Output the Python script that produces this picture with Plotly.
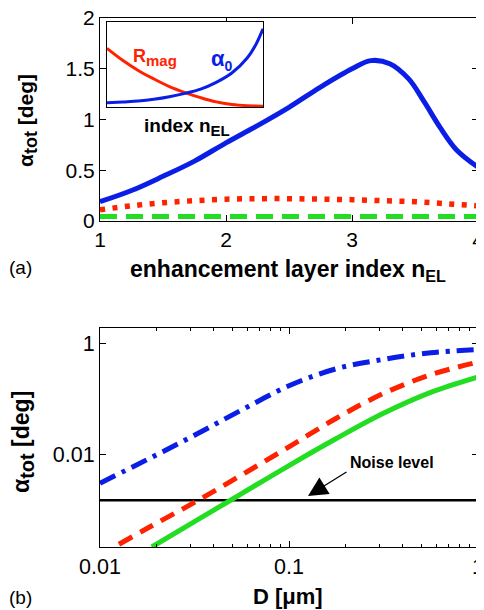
import plotly.graph_objects as go

# ---- panel (a) data ----
n_el_blue = [1.0, 1.25, 1.5, 1.75, 2.0, 2.25, 2.5, 2.75, 3.0, 3.15, 3.3, 3.45, 3.57, 3.7, 3.83, 4.0]
alpha_blue = [0.19, 0.30, 0.44, 0.59, 0.77, 0.94, 1.12, 1.32, 1.50, 1.58, 1.55, 1.40, 1.18, 0.92, 0.70, 0.53]
n_el = [1.0, 1.25, 1.5, 1.75, 2.0, 2.25, 2.5, 2.75, 3.0, 3.25, 3.5, 3.75, 4.0]
alpha_red = [0.11, 0.15, 0.18, 0.20, 0.215, 0.22, 0.22, 0.215, 0.21, 0.20, 0.19, 0.17, 0.15]
alpha_green = [0.045, 0.045, 0.045, 0.045, 0.046, 0.046, 0.046, 0.046, 0.046, 0.045, 0.045, 0.045, 0.045]

# inset (normalised)
inset_x = [0.0, 0.1, 0.2, 0.3, 0.4, 0.5, 0.6, 0.7, 0.8, 0.9, 0.95, 1.0]
inset_rmag = [0.69, 0.55, 0.43, 0.33, 0.24, 0.17, 0.11, 0.06, 0.03, 0.015, 0.012, 0.01]
inset_alpha0 = [0.05, 0.06, 0.07, 0.09, 0.12, 0.16, 0.21, 0.29, 0.40, 0.58, 0.72, 0.92]

# ---- panel (b) data ----
D_blue = [0.01, 0.0178, 0.0316, 0.0562, 0.1, 0.178, 0.316, 0.562, 1.0]
a_blue = [0.00295, 0.00794, 0.0219, 0.0631, 0.174, 0.355, 0.525, 0.692, 0.794]
D_red = [0.0126, 0.0178, 0.0316, 0.0562, 0.1, 0.178, 0.316, 0.562, 1.0]
a_red = [0.000229, 0.000447, 0.00132, 0.00417, 0.0135, 0.0447, 0.126, 0.275, 0.468]
D_green = [0.0188, 0.0316, 0.0562, 0.1, 0.178, 0.316, 0.562, 1.0]
a_green = [0.000204, 0.000589, 0.00191, 0.00617, 0.0191, 0.055, 0.132, 0.251]
noise_D = [0.01, 1.0]
noise_level = [0.00144, 0.00144]

# page body has an 8px margin: figure occupies window pixels 8..484 x 8..610
OFF = 8
W, H = 484 - OFF, 610 - OFF
def px(x): return (x - OFF) / W
def py(y): return 1 - (y - OFF) / H

BLUE, RED, GREEN = "#0a1ee6", "#ff2200", "#22dd22"
FONT = "Liberation Sans, Arial"

fig = go.Figure()
# panel a
fig.add_trace(go.Scatter(x=n_el, y=alpha_green, mode="lines", line=dict(color=GREEN, width=5, dash="17px,9px"), xaxis="x", yaxis="y", showlegend=False))
fig.add_trace(go.Scatter(x=n_el, y=alpha_red, mode="lines", line=dict(color=RED, width=5.5, dash="5px,7.5px", shape="spline"), xaxis="x", yaxis="y", showlegend=False))
fig.add_trace(go.Scatter(x=n_el_blue, y=alpha_blue, mode="lines", line=dict(color=BLUE, width=5, shape="spline"), xaxis="x", yaxis="y", showlegend=False))
# inset
fig.add_trace(go.Scatter(x=inset_x, y=inset_rmag, mode="lines", line=dict(color=RED, width=3, shape="spline"), xaxis="x3", yaxis="y3", showlegend=False))
fig.add_trace(go.Scatter(x=inset_x, y=inset_alpha0, mode="lines", line=dict(color=BLUE, width=3, shape="spline"), xaxis="x3", yaxis="y3", showlegend=False))
# panel b
fig.add_trace(go.Scatter(x=noise_D, y=noise_level, mode="lines", line=dict(color="black", width=2.5), xaxis="x2", yaxis="y2", showlegend=False))
fig.add_trace(go.Scatter(x=D_blue, y=a_blue, mode="lines", line=dict(color=BLUE, width=5, dash="17px,7px,4px,7px", shape="spline"), xaxis="x2", yaxis="y2", showlegend=False))
fig.add_trace(go.Scatter(x=D_red, y=a_red, mode="lines", line=dict(color=RED, width=5, dash="15px,9px", shape="spline"), xaxis="x2", yaxis="y2", showlegend=False))
fig.add_trace(go.Scatter(x=D_green, y=a_green, mode="lines", line=dict(color=GREEN, width=5, shape="spline"), xaxis="x2", yaxis="y2", showlegend=False))

common = dict(showline=True, linecolor="black", linewidth=1, mirror="ticks", ticks="inside", ticklen=6,
              tickcolor="black", showgrid=False, zeroline=False, automargin=False, ticklabeloverflow="allow")
tf_a = dict(family=FONT, size=21, color="black")
tf_b = dict(family=FONT, size=21.5, color="black")

fig.update_layout(
    width=W, height=H, margin=dict(l=0, r=0, t=0, b=0, autoexpand=False),
    paper_bgcolor="white", plot_bgcolor="white",
    xaxis=dict(domain=[px(100), px(478)], range=[1, 4], tickvals=[1, 2, 3, 4], anchor="y", tickfont=tf_a, **common),
    yaxis=dict(domain=[py(221), py(18)], range=[0, 2], tickvals=[0, 0.5, 1, 1.5, 2],
               ticktext=["0", "0.5", "1", "1.5", "2"], anchor="x", tickfont=tf_a, **common),
    xaxis2=dict(domain=[px(100), px(478)], type="log", range=[-2, 0], tickvals=[0.01, 0.1, 1],
                ticktext=["0.01", "0.1", "1"], anchor="y2", tickfont=tf_b,
                minor=dict(ticks="inside", ticklen=3, tickcolor="black", dtick="D1", showgrid=False), **common),
    yaxis2=dict(domain=[py(547), py(328)], type="log", range=[-3.69, 0.29], tickvals=[0.01, 1],
                ticktext=["0.01", "1"], anchor="x2", tickfont=tf_b, **common),
    xaxis3=dict(domain=[px(107), px(263)], range=[0, 1], showticklabels=False, showline=True, linecolor="black",
                mirror=True, showgrid=False, zeroline=False, anchor="y3", automargin=False),
    yaxis3=dict(domain=[py(107), py(22)], range=[0, 1], showticklabels=False, showline=True, linecolor="black",
                mirror=True, showgrid=False, zeroline=False, anchor="x3", automargin=False),
)

def A(x, y, text, size, color="black", angle=0, xanchor="center"):
    return dict(x=px(x), y=py(y), xref="paper", yref="paper", text=text, showarrow=False, textangle=angle,
                font=dict(family=FONT, size=size, color=color), xanchor=xanchor, yanchor="middle")

ann = [
    A(288, 270, "<b>enhancement layer index n<sub>EL</sub></b>", 23),
    A(28, 121, "<b>α<sub><span style='font-size:18px'>tot</span></sub> [deg]</b>", 21, angle=-90),
    A(23, 442, "<b>α<sub><span style='font-size:20px'>tot</span></sub> [deg]</b>", 23, angle=-90),
    A(288, 596, "<b>D [μm]</b>", 22),
    A(7, 267, "(a)", 19, xanchor="left"),
    A(7, 597, "(b)", 19, xanchor="left"),
    A(187, 127, "<b>index n<sub><span style='font-size:15px'>EL</span></sub></b>", 19),
    A(131, 58, "<b>R<sub><span style='font-size:15px'>mag</span></sub></b>", 18, color=RED, xanchor="left"),
    A(209, 60, "<b>α<sub><span style='font-size:14px'>0</span></sub></b>", 22, color=BLUE, xanchor="left"),
    A(392, 462, "<b>Noise level</b>", 16),
    dict(x=px(308), y=py(496), xref="paper", yref="paper", text="", showarrow=True, ax=40, ay=-25,
         arrowhead=2, arrowsize=3, arrowwidth=1.3, arrowcolor="black"),
]
fig.update_layout(annotations=ann)

fig.write_html("out.html")
